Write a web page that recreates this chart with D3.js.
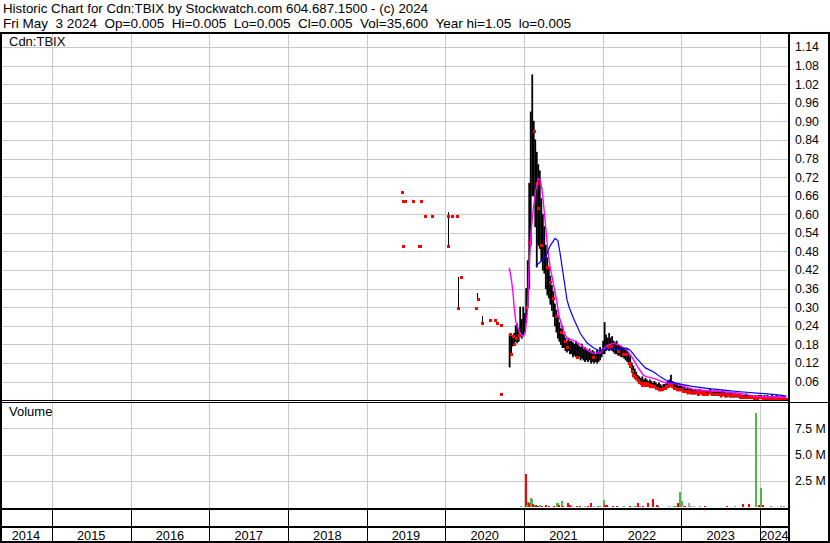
<!DOCTYPE html>
<html><head><meta charset="utf-8">
<script src="https://cdn.jsdelivr.net/npm/d3@7"></script>
<style>
body{margin:0;background:#fff}
svg{display:block}
text{font-family:"Liberation Sans",Arial,sans-serif;fill:#000}
</style>
</head><body>
<svg id="chart" width="830" height="543"></svg>
<script>
// ---------------- DATA ----------------
const titleLine1 = "Historic Chart for Cdn:TBIX by Stockwatch.com 604.687.1500 - (c) 2024";
const titleLine2 = "Fri May  3 2024  Op=0.005  Hi=0.005  Lo=0.005  Cl=0.005  Vol=35,600  Year hi=1.05  lo=0.005";
const symbolLabel = "Cdn:TBIX";
const volumeLabel = "Volume";

const priceTicks = [0.06,0.12,0.18,0.24,0.30,0.36,0.42,0.48,0.54,0.60,0.66,0.72,0.78,0.84,0.90,0.96,1.02,1.08,1.14];
const volTicks = [2.5,5.0,7.5];
const volTickLabels = ["2.5 M","5.0 M","7.5 M"];
const yearLabels = [2014,2015,2016,2017,2018,2019,2020,2021,2022,2023,2024];

// early, sparse trades (single-price days)
const dotDates = ["2019-06-13","2019-06-19","2019-06-26","2019-08-06","2019-09-12","2019-10-01","2019-11-01",
  "2020-01-13","2020-02-02","2020-02-25","2019-06-21","2019-09-01","2019-09-07","2020-01-15","2020-03-15",
  "2020-03-02","2020-05-30","2020-05-25","2020-06-19","2020-07-25","2020-08-18","2020-08-29","2020-09-15","2020-09-15"];
const dotValues = [0.673,0.644,0.644,0.644,0.644,0.593,0.593,
  0.593,0.593,0.593,0.496,0.496,0.496,0.496,0.396,
  0.297,0.326,0.297,0.249,0.258,0.258,0.249,0.242,0.020];

// early ranged trading days
const lineDates = ["2020-01-13","2020-02-28","2020-05-27","2020-06-19"];
const lineHigh = [0.608,0.399,0.347,0.270];
const lineLow  = [0.495,0.297,0.324,0.249];

// weekly bars from week of 2020-10-26 to week of 2024-04-29
const barStart = "2020-10-26", barEnd = "2024-05-04";
const barHigh = [
 0.213,0.21,0.207,0.215,0.24,0.245,0.23,0.30,0.26,0.30,
 0.28,0.36,0.45,0.70,0.93,1.05,0.90,0.84,0.80,0.76,
 0.74,0.65,0.60,0.56,0.50,0.46,0.43,0.40,0.37,0.35,
 0.31,0.29,0.27,0.25,0.23,0.24,0.21,0.20,0.19,0.20,
 0.19,0.19,0.185,0.18,0.19,0.18,0.175,0.17,0.18,0.165,
 0.17,0.165,0.16,0.165,0.155,0.16,0.155,0.15,0.16,0.155,
 0.17,0.16,0.19,0.25,0.21,0.20,0.215,0.20,0.205,0.19,
 0.185,0.19,0.18,0.175,0.17,0.17,0.165,0.16,0.165,0.15,
 0.14,0.12,0.11,0.10,0.09,0.08,0.075,0.07,0.075,0.065,
 0.07,0.065,0.06,0.065,0.06,0.055,0.06,0.055,0.05,0.055,
 0.05,0.045,0.05,0.05,0.055,0.06,0.065,0.08,0.06,0.055,
 0.05,0.05,0.045,0.05,0.045,0.04,0.04,0.035,0.04,0.035,
 0.035,0.035,0.03,0.035,0.03,0.03,0.035,0.03,0.03,0.03,
 0.025,0.03,0.03,0.035,0.03,0.025,0.03,0.025,0.03,0.025,
 0.025,0.03,0.025,0.025,0.02,0.025,0.02,0.025,0.02,0.02,
 0.02,0.015,0.02,0.02,0.015,0.015,0.015,0.02,0.015,0.015,
 0.01,0.015,0.01,0.015,0.01,0.015,0.015,0.015,0.01,0.015,
 0.01,0.015,0.01,0.01,0.015,0.01,0.01,0.015,0.01,0.01,
 0.01,0.01,0.01,0.005];
const barLow = [
 0.107,0.148,0.175,0.178,0.19,0.185,0.19,0.22,0.20,0.21,
 0.22,0.25,0.30,0.36,0.50,0.66,0.66,0.56,0.43,0.50,
 0.49,0.45,0.42,0.41,0.36,0.34,0.33,0.31,0.29,0.27,
 0.24,0.22,0.20,0.19,0.18,0.17,0.17,0.16,0.155,0.16,
 0.15,0.15,0.14,0.145,0.14,0.135,0.14,0.13,0.135,0.13,
 0.125,0.13,0.125,0.13,0.12,0.125,0.12,0.125,0.12,0.125,
 0.13,0.14,0.15,0.15,0.16,0.165,0.16,0.165,0.16,0.155,
 0.15,0.15,0.145,0.145,0.14,0.14,0.135,0.13,0.125,0.115,
 0.105,0.09,0.075,0.07,0.065,0.06,0.055,0.05,0.045,0.05,
 0.045,0.05,0.045,0.04,0.045,0.04,0.04,0.035,0.035,0.03,
 0.03,0.03,0.035,0.035,0.04,0.04,0.045,0.045,0.04,0.035,
 0.035,0.03,0.03,0.03,0.03,0.025,0.025,0.025,0.02,0.025,
 0.02,0.02,0.02,0.02,0.02,0.015,0.02,0.02,0.015,0.02,
 0.015,0.015,0.02,0.02,0.015,0.015,0.015,0.015,0.015,0.015,
 0.01,0.015,0.015,0.01,0.01,0.015,0.01,0.01,0.01,0.01,
 0.01,0.01,0.01,0.005,0.005,0.005,0.005,0.005,0.005,0.005,
 0.005,0.005,0.005,0.005,0.005,0.005,0.005,0.005,0.005,0.005,
 0.005,0.005,0.005,0.005,0.005,0.005,0.005,0.005,0.005,0.005,
 0.005,0.005,0.005,0.005];
const barClose = [
 0.213,0.15,0.207,0.18,0.20,null,0.21,null,null,null,
 null,0.30,null,0.51,null,null,0.87,null,0.70,0.62,
 null,0.50,null,null,null,0.43,null,0.38,null,0.33,
 null,0.27,null,null,0.22,null,null,0.19,0.17,null,
 null,null,null,null,null,0.14,null,null,null,null,
 null,null,null,null,null,0.14,null,null,null,null,
 null,null,null,null,null,0.17,null,0.175,null,null,
 null,null,0.16,null,null,0.15,null,0.15,null,0.12,
 0.11,0.095,0.08,0.075,0.07,0.065,0.06,0.055,0.05,0.055,
 0.05,0.055,0.05,0.045,0.05,0.045,0.045,0.04,0.04,0.035,
 0.035,0.035,0.04,0.04,0.045,0.045,0.05,0.05,0.045,0.04,
 0.04,0.035,0.035,0.035,0.035,0.03,0.03,0.03,0.025,0.03,
 0.025,0.025,0.025,0.025,0.025,0.02,0.025,0.025,0.02,0.025,
 0.02,0.02,0.025,0.025,0.02,0.02,0.02,0.02,0.02,0.02,
 0.015,0.02,0.02,0.015,0.015,0.02,0.015,0.015,0.015,0.015,
 0.015,0.015,0.015,0.01,0.01,0.01,0.01,0.01,0.01,0.01,
 0.01,0.01,0.005,0.01,0.005,0.01,0.01,0.01,0.005,0.01,
 0.005,0.01,0.005,0.005,0.01,0.005,0.005,0.01,0.005,0.005,
 0.005,0.005,0.005,0.005];

// short moving average (magenta)
const maShortDates = ["2020-10-24","2020-10-27","2020-11-04","2020-11-11","2020-11-16","2020-11-24","2020-12-02","2020-12-13","2020-12-28",
 "2021-01-07","2021-01-17","2021-01-24","2021-02-02","2021-02-13","2021-02-25","2021-03-08","2021-03-16","2021-03-24","2021-03-31",
 "2021-04-11","2021-04-22","2021-05-02","2021-05-16","2021-05-30","2021-06-13","2021-07-03","2021-07-19","2021-08-18","2021-09-19",
 "2021-10-20","2021-11-20","2021-12-21","2022-01-21","2022-02-21","2022-03-24","2022-04-24","2022-05-17","2022-06-17","2022-07-10",
 "2022-07-26","2022-08-26","2022-09-26","2022-10-27","2022-11-27","2022-12-28","2023-02-28","2023-05-01","2023-07-17","2023-10-02",
 "2023-12-02","2024-03-04","2024-05-03"];
const maShortValues = [0.427,0.418,0.386,0.343,0.300,0.252,0.236,0.214,0.206,
 0.220,0.290,0.420,0.540,0.620,0.680,0.715,0.712,0.686,0.643,
 0.560,0.480,0.430,0.380,0.330,0.270,0.225,0.200,0.193,0.180,
 0.162,0.150,0.153,0.177,0.184,0.176,0.161,0.139,0.102,0.080,
 0.075,0.070,0.062,0.054,0.056,0.048,0.034,0.030,0.027,0.022,
 0.013,0.009,0.009];

// long moving average (blue)
const maLongDates = ["2021-02-25","2021-03-24","2021-04-13","2021-05-02","2021-05-25","2021-06-07","2021-06-17","2021-07-03","2021-07-19",
 "2021-07-29","2021-08-18","2021-09-19","2021-10-20","2021-11-20","2021-12-13","2022-01-05","2022-02-05","2022-03-24","2022-04-24",
 "2022-05-09","2022-06-09","2022-07-18","2022-08-26","2022-09-26","2022-10-27","2022-12-13","2023-02-13","2023-05-01","2023-07-17",
 "2023-10-02","2024-01-02","2024-04-04","2024-05-03"];
const maLongValues = [0.434,0.450,0.465,0.498,0.522,0.515,0.475,0.400,0.325,
 0.300,0.265,0.215,0.185,0.168,0.161,0.163,0.164,0.166,0.168,
 0.161,0.134,0.104,0.091,0.075,0.062,0.054,0.045,0.038,0.032,
 0.027,0.022,0.016,0.013];

// volume (millions), direction: d = down (red), u = up (green), n = unchanged (grey)
const volDates = ["2020-12-16","2021-01-08","2021-01-13","2021-01-21","2021-01-25","2021-02-01","2021-02-07","2021-02-13","2021-02-19",
 "2021-02-25","2021-03-05","2021-03-16","2021-03-24","2021-04-13","2021-04-28","2021-05-20","2021-06-02","2021-06-09","2021-06-14",
 "2021-06-25","2021-07-03","2021-07-23","2021-08-03","2021-08-11","2021-09-03","2021-09-19","2021-10-12","2021-10-23","2021-10-27",
 "2021-11-08","2021-11-20","2021-12-08","2021-12-21","2022-01-07","2022-01-13","2022-01-21","2022-02-18","2022-03-08","2022-04-12",
 "2022-05-06","2022-05-31","2022-06-10","2022-06-16","2022-06-25","2022-07-08","2022-07-31","2022-08-23","2022-09-08","2022-09-17",
 "2022-11-04","2022-11-28","2022-12-09","2022-12-16","2022-12-24","2023-01-02","2023-01-10","2023-01-20","2023-02-08","2023-02-16",
 "2023-03-03","2023-03-28","2023-04-23","2023-08-02","2023-09-09","2023-10-15","2023-11-13","2023-12-14","2023-12-29","2024-01-05",
 "2024-01-13","2024-02-21","2024-04-08","2024-04-22"];
const volValues = [0.05,3.15,0.2,0.5,0.4,0.9,0.75,0.3,0.2,
 0.2,0.1,0.2,0.1,0.15,0.1,0.1,0.35,0.35,0.2,
 0.6,0.1,0.35,0.15,0.05,0.05,0.05,0.1,0.1,0.1,
 0.35,0.05,0.05,0.1,0.67,0.15,0.15,0.05,0.05,0.05,
 0.05,0.05,0.1,0.35,0.05,0.05,0.35,0.75,0.2,0.1,
 0.05,0.1,0.1,0.4,1.43,0.55,0.2,0.05,0.35,0.1,
 0.05,0.05,0.05,0.05,0.05,0.25,0.25,9.0,0.15,1.8,
 0.15,0.05,0.05,0.05];
const volDir = ["n","d","u","u","d","u","u","d","u",
 "d","d","u","d","d","d","d","u","u","d",
 "u","d","d","d","n","d","d","n","u","d",
 "d","n","u","u","u","d","d","d","d","u",
 "d","u","n","d","n","d","d","d","d","d",
 "n","u","u","d","u","u","n","d","n","u",
 "n","n","d","d","n","d","d","u","d","u",
 "d","u","u","u"];

// ---------------- DRAW ----------------
const parse = d3.timeParse("%Y-%m-%d");
const svg = d3.select("#chart");
const W = 830, H = 543;
const plotL = 2, plotR = 789;
const priceTop = 34, priceBot = 400;
const volTop = 402, volBot = 509;

const x = d3.scaleTime().domain([new Date(2014,4,5), new Date(2024,4,15)]).range([0, plotR]);
const yP = d3.scaleLinear().domain([0, 1.187]).range([400.1, 32.5]);
const yV = d3.scaleLinear().domain([0, 10]).range([507, 402]);

svg.append("rect").attr("width",W).attr("height",H).attr("fill","#fff");

const yearStarts = yearLabels.map(y => new Date(y,0,1));
const gridC = "#c8c8c8";

// gridlines - price panel
const gP = svg.append("g").attr("shape-rendering","crispEdges");
gP.selectAll("line.h").data(priceTicks).join("line")
  .attr("x1",plotL).attr("x2",plotR).attr("y1",d=>Math.round(yP(d))+0.5).attr("y2",d=>Math.round(yP(d))+0.5)
  .attr("stroke",gridC);
gP.selectAll("line.v").data(yearStarts.filter(d=>x(d)>3)).join("line")
  .attr("x1",d=>Math.round(x(d))+0.5).attr("x2",d=>Math.round(x(d))+0.5).attr("y1",priceTop).attr("y2",priceBot)
  .attr("stroke",gridC);
// gridlines - volume panel
const gV = svg.append("g").attr("shape-rendering","crispEdges");
gV.selectAll("line.h").data(volTicks).join("line")
  .attr("x1",plotL).attr("x2",plotR).attr("y1",d=>Math.round(yV(d))+0.5).attr("y2",d=>Math.round(yV(d))+0.5)
  .attr("stroke",gridC);
gV.selectAll("line.v").data(yearStarts.filter(d=>x(d)>3)).join("line")
  .attr("x1",d=>Math.round(x(d))+0.5).attr("x2",d=>Math.round(x(d))+0.5).attr("y1",volTop).attr("y2",volBot)
  .attr("stroke",gridC);

// weekly bars
const barDates = d3.timeMonday.range(parse(barStart), parse(barEnd));
const n = Math.min(barDates.length, barHigh.length, barLow.length);
const bars = d3.range(n).map(i => ({d:barDates[i], h:barHigh[i], l:barLow[i], c:barClose[i]}));
svg.append("g").selectAll("line").data(bars).join("line")
  .attr("x1",d=>x(d.d)).attr("x2",d=>x(d.d))
  .attr("y1",d=>yP(d.h)-0.5).attr("y2",d=>yP(d.l)+0.5)
  .attr("stroke","#000").attr("stroke-width",1.8);

// early ranged lines
svg.append("g").attr("shape-rendering","crispEdges").selectAll("line").data(lineDates.map((d,i)=>({d:parse(d),h:lineHigh[i],l:lineLow[i]}))).join("line")
  .attr("x1",d=>Math.round(x(d.d))+0.5).attr("x2",d=>Math.round(x(d.d))+0.5)
  .attr("y1",d=>yP(d.h)).attr("y2",d=>yP(d.l))
  .attr("stroke","#000").attr("stroke-width",1);

// red marks
const redPts = dotDates.map((d,i)=>({d:parse(d),v:dotValues[i]}))
  .concat(bars.filter(b=>b.c!=null).map(b=>({d:b.d,v:b.c})));
svg.append("g").attr("shape-rendering","crispEdges").selectAll("rect").data(redPts).join("rect")
  .attr("x",d=>Math.round(x(d.d))-1).attr("y",d=>Math.round(yP(d.v))-1)
  .attr("width",2.5).attr("height",2.5).attr("fill","#ff0000");

// moving averages
const line = d3.line().x(d=>x(d.d)).y(d=>yP(d.v));
svg.append("path").datum(maShortDates.map((d,i)=>({d:parse(d),v:maShortValues[i]})))
  .attr("d",line).attr("fill","none").attr("stroke","#ff00ff").attr("stroke-width",1.4);
svg.append("path").datum(maLongDates.map((d,i)=>({d:parse(d),v:maLongValues[i]})))
  .attr("d",line).attr("fill","none").attr("stroke","#0000ff").attr("stroke-width",1.2);

// volume bars
const volColor = {d:"#ff0000", u:"#4cb84c", n:"#a8a8a8"};
svg.append("g").attr("shape-rendering","crispEdges").selectAll("rect").data(volDates.map((d,i)=>({d:parse(d),v:volValues[i],k:volDir[i]}))).join("rect")
  .attr("x",d=>Math.round(x(d.d))-1).attr("width",2)
  .attr("y",d=>yV(d.v)).attr("height",d=>Math.max(1, yV(0)-yV(d.v)))
  .attr("fill",d=>volColor[d.k]);

// frame lines
const fr = svg.append("g").attr("shape-rendering","crispEdges").attr("stroke","#000");
fr.append("line").attr("x1",0).attr("x2",W).attr("y1",33).attr("y2",33).attr("stroke-width",2);
fr.append("line").attr("x1",1).attr("x2",1).attr("y1",32).attr("y2",H).attr("stroke-width",2);
fr.append("line").attr("x1",W-1).attr("x2",W-1).attr("y1",32).attr("y2",H).attr("stroke-width",2);
fr.append("line").attr("x1",plotR).attr("x2",plotR).attr("y1",32).attr("y2",H).attr("stroke-width",2);
fr.append("line").attr("x1",0).attr("x2",plotR).attr("y1",400.5).attr("y2",400.5).attr("stroke-width",1);
fr.append("line").attr("x1",0).attr("x2",W).attr("y1",402.5).attr("y2",402.5).attr("stroke-width",1);
fr.append("line").attr("x1",0).attr("x2",plotR).attr("y1",509).attr("y2",509).attr("stroke-width",2);
fr.append("line").attr("x1",0).attr("x2",plotR).attr("y1",527).attr("y2",527).attr("stroke-width",2);
fr.append("line").attr("x1",0).attr("x2",W).attr("y1",542).attr("y2",542).attr("stroke-width",2);
fr.selectAll("line.yd").data(yearStarts.filter(d=>x(d)>3)).join("line")
  .attr("x1",d=>Math.round(x(d))+0.5).attr("x2",d=>Math.round(x(d))+0.5).attr("y1",509).attr("y2",542)
  .attr("stroke-width",1);

// right axes (labels via d3 axis)
const axP = d3.axisRight(yP).tickValues(priceTicks).tickSize(0).tickPadding(6).tickFormat(d3.format(".2f"));
const gAxP = svg.append("g").attr("transform",`translate(${plotR},0)`).call(axP);
gAxP.select(".domain").remove();
gAxP.selectAll("text").attr("font-size",12.3).attr("font-family","Liberation Sans, Arial, sans-serif");
const axV = d3.axisRight(yV).tickValues(volTicks).tickSize(0).tickPadding(6).tickFormat((d,i)=>volTickLabels[i]);
const gAxV = svg.append("g").attr("transform",`translate(${plotR},0)`).call(axV);
gAxV.select(".domain").remove();
gAxV.selectAll("text").attr("font-size",12.3).attr("font-family","Liberation Sans, Arial, sans-serif");

// year labels (centered between year boundaries)
svg.append("g").selectAll("text").data(yearLabels).join("text")
  .attr("x",y=>{const a=Math.max(x(new Date(y,0,1)),0), b=Math.min(x(new Date(y+1,0,1)),plotR); return (a+b)/2;})
  .attr("y",540).attr("text-anchor","middle").attr("font-size",12.8).text(d=>d);

// header and panel labels
svg.append("text").attr("x",3).attr("y",12.5).attr("font-size",13)
  .attr("textLength",425).attr("lengthAdjust","spacingAndGlyphs").text(titleLine1);
svg.append("text").attr("x",3).attr("y",27.5).attr("font-size",13)
  .attr("textLength",568).attr("lengthAdjust","spacingAndGlyphs")
  .attr("xml:space","preserve").style("white-space","pre").text(titleLine2);
svg.append("text").attr("x",9).attr("y",46).attr("font-size",13).text(symbolLabel);
svg.append("text").attr("x",9).attr("y",416).attr("font-size",13).text(volumeLabel);
</script>
</body></html>
